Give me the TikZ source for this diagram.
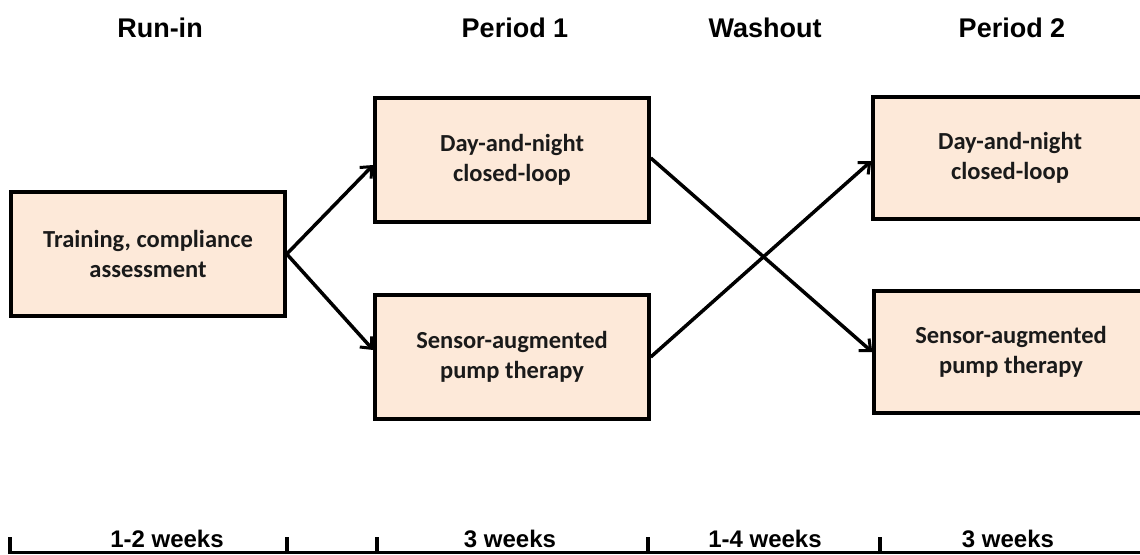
\documentclass[tikz,border=0pt]{standalone}
\usepackage{fontspec}
\setmainfont{Liberation Sans}
\newfontfamily\boxfont{Carlito}
\usetikzlibrary{arrows.meta}

\definecolor{peach}{HTML}{FDE9D9}
\definecolor{boxtext}{HTML}{1A1A1A}

\tikzset{
  phasebox/.style={draw=black, line width=3.5pt, fill=peach,
    minimum width=274pt, minimum height=124pt, inner sep=0pt,
    align=center, text=boxtext,
    font=\boxfont\bfseries\fontsize{24.5}{29.5}\selectfont},
  flow/.style={line width=3.5pt, -{Straight Barb[length=9pt,width=16pt,line width=3pt]}},
  phasetitle/.style={anchor=base, inner sep=0pt,
    font=\bfseries\fontsize{27}{30}\selectfont},
  durlabel/.style={anchor=base, inner sep=0pt,
    font=\bfseries\fontsize{24}{28}\selectfont},
  tick/.style={line width=3.5pt},
}

\begin{document}
\begin{tikzpicture}[x=1pt, y=-1pt]
\useasboundingbox (0,0) rectangle (1140,554);

% phase headings
\node[phasetitle] (hrun) at (160,37) {Run-in};
\node[phasetitle] (hp1)  at (515,37) {Period 1};
\node[phasetitle] (hwash) at (765,37) {Washout};
\node[phasetitle] (hp2)  at (1012,37) {Period 2};

% treatment boxes
\node[phasebox] (train) at (148,254) {Training, compliance\\assessment};
\node[phasebox] (d1) at (512,160) {Day-and-night\\closed-loop};
\node[phasebox] (s1) at (512,357) {Sensor-augmented\\pump therapy};
\node[phasebox, minimum height=122pt] (d2) at (1010,158) {Day-and-night\\closed-loop};
\node[phasebox, minimum height=122pt] (s2) at (1011,352) {Sensor-augmented\\pump therapy};

% randomisation and crossover
\draw[flow] (train.east) -- ([yshift=-5pt]d1.west);
\draw[flow] (train.east) -- ([yshift=7pt]s1.west);
\draw[flow] ([yshift=2pt]d1.east) -- (s2.west);
\draw[flow] (s1.east) -- ([yshift=-3pt]d2.west);

% timeline
\coordinate (t0) at (10,552.5);
\coordinate (tend) at (1140,552.5);
\draw[line width=2.5pt] (t0) -- (tend);
\foreach \x in {10,287,377,648,880}
  \draw[tick] (\x,554) -- (\x,537);

% durations
\node[durlabel] (w1) at (167,547) {1-2 weeks};
\node[durlabel] (w2) at (510,547) {3 weeks};
\node[durlabel] (w3) at (765,547) {1-4 weeks};
\node[durlabel] (w4) at (1008,547) {3 weeks};
\end{tikzpicture}
\end{document}
